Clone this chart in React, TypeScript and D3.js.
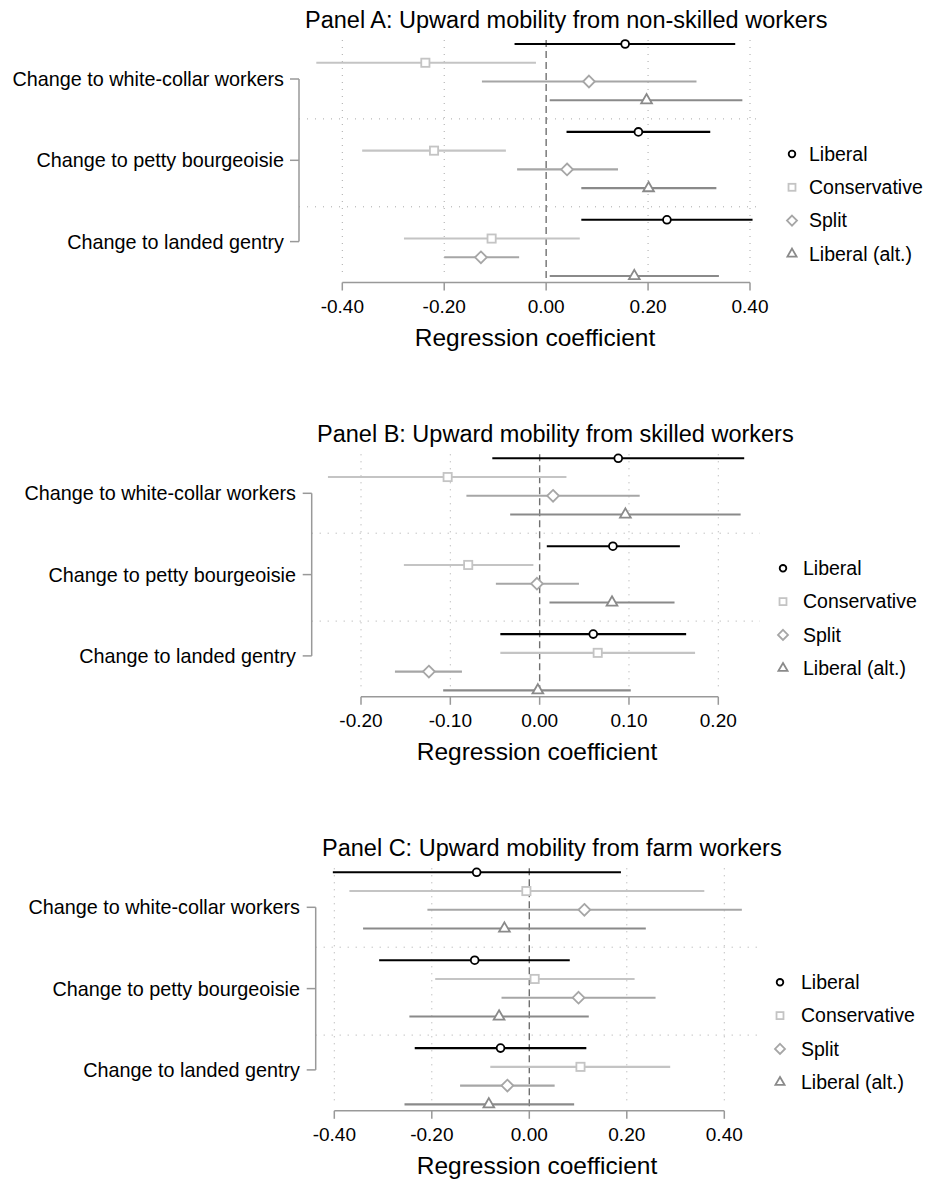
import React from 'react';
import * as d3 from 'd3';

// ---------- data ----------
const categories = [
  'Change to white-collar workers',
  'Change to petty bourgeoisie',
  'Change to landed gentry',
];
const seriesNames = ['Liberal', 'Conservative', 'Split', 'Liberal (alt.)'];
const panelTitles = [
  'Panel A: Upward mobility from non-skilled workers',
  'Panel B: Upward mobility from skilled workers',
  'Panel C: Upward mobility from farm workers',
];
const ticksA = [-0.4, -0.2, 0, 0.2, 0.4];
const ticksB = [-0.2, -0.1, 0, 0.1, 0.2];
const ticksC = [-0.4, -0.2, 0, 0.2, 0.4];
const axisTitle = 'Regression coefficient';

// Panel A (est, lo, hi per category)
const aLibEst = [0.155, 0.181, 0.237];
const aLibLo = [-0.062, 0.040, 0.069];
const aLibHi = [0.371, 0.322, 0.405];
const aConEst = [-0.237, -0.220, -0.107];
const aConLo = [-0.451, -0.361, -0.279];
const aConHi = [-0.020, -0.079, 0.066];
const aSplEst = [0.084, 0.041, -0.128];
const aSplLo = [-0.126, -0.057, -0.200];
const aSplHi = [0.295, 0.141, -0.053];
const aAltEst = [0.197, 0.201, 0.173];
const aAltLo = [0.007, 0.069, 0.007];
const aAltHi = [0.385, 0.334, 0.339];

// Panel B
const bLibEst = [0.088, 0.082, 0.060];
const bLibLo = [-0.053, 0.008, -0.044];
const bLibHi = [0.229, 0.157, 0.164];
const bConEst = [-0.103, -0.080, 0.065];
const bConLo = [-0.237, -0.152, -0.044];
const bConHi = [0.030, -0.007, 0.174];
const bSplEst = [0.015, -0.003, -0.124];
const bSplLo = [-0.082, -0.049, -0.162];
const bSplHi = [0.112, 0.044, -0.087];
const bAltEst = [0.096, 0.081, -0.002];
const bAltLo = [-0.033, 0.011, -0.108];
const bAltHi = [0.225, 0.151, 0.102];

// Panel C
const cLibEst = [-0.108, -0.112, -0.059];
const cLibLo = [-0.403, -0.308, -0.235];
const cLibHi = [0.188, 0.083, 0.117];
const cConEst = [-0.006, 0.011, 0.105];
const cConLo = [-0.369, -0.193, -0.080];
const cConHi = [0.359, 0.216, 0.289];
const cSplEst = [0.113, 0.101, -0.045];
const cSplLo = [-0.209, -0.057, -0.142];
const cSplHi = [0.436, 0.259, 0.052];
const cAltEst = [-0.051, -0.062, -0.083];
const cAltLo = [-0.341, -0.246, -0.256];
const cAltHi = [0.239, 0.122, 0.092];

// ---------- styles ----------
const seriesColors = ['#000000', '#c4c4c4', '#a6a6a6', '#8a8a8a'];
const seriesShapes = ['circle', 'square', 'diamond', 'triangle'];
const FONT = '"Liberation Sans", Arial, Helvetica, sans-serif';
const fmt = d3.formatLocale({ decimal: '.', thousands: ',', grouping: [3], currency: ['', ''], minus: '-' }).format('.2f');

type Series = { est: number[]; lo: number[]; hi: number[] };

const panels = [
  {
    title: panelTitles[0], ticks: ticksA,
    series: [
      { est: aLibEst, lo: aLibLo, hi: aLibHi },
      { est: aConEst, lo: aConLo, hi: aConHi },
      { est: aSplEst, lo: aSplLo, hi: aSplHi },
      { est: aAltEst, lo: aAltLo, hi: aAltHi },
    ] as Series[],
    layout: { row0: 44, x0: 342.3, x1: 750, bracketX: 299, labelX: 284, sepRight: 763, legMX: 792, legTX: 809, titleX: 305, axTitleX: 535 },
  },
  {
    title: panelTitles[1], ticks: ticksB,
    series: [
      { est: bLibEst, lo: bLibLo, hi: bLibHi },
      { est: bConEst, lo: bConLo, hi: bConHi },
      { est: bSplEst, lo: bSplLo, hi: bSplHi },
      { est: bAltEst, lo: bAltLo, hi: bAltHi },
    ] as Series[],
    layout: { row0: 458.3, x0: 361, x1: 718.3, bracketX: 311.7, labelX: 296, sepRight: 760, legMX: 783, legTX: 803, titleX: 317, axTitleX: 537 },
  },
  {
    title: panelTitles[2], ticks: ticksC,
    series: [
      { est: cLibEst, lo: cLibLo, hi: cLibHi },
      { est: cConEst, lo: cConLo, hi: cConHi },
      { est: cSplEst, lo: cSplLo, hi: cSplHi },
      { est: cAltEst, lo: cAltLo, hi: cAltHi },
    ] as Series[],
    layout: { row0: 872.3, x0: 334.3, x1: 724.3, bracketX: 315.7, labelX: 300, sepRight: 757, legMX: 780, legTX: 801, titleX: 322, axTitleX: 537 },
  },
];

const ROW_STEP = 18.75;
const GROUP_STEP = 87.9;
const CAT_OFFSET = 35;
const CAT_STEP = 81.3;

function Marker({ shape, x, y, color, k = 1 }: { shape: string; x: number; y: number; color: string; k?: number }) {
  const sw = 1.8;
  if (shape === 'circle') {
    return <circle cx={x} cy={y} r={3.9 * k} fill="white" stroke={color} strokeWidth={sw} />;
  }
  if (shape === 'square') {
    const s = 8.2 * k;
    return <rect x={x - s / 2} y={y - s / 2} width={s} height={s} fill="white" stroke={color} strokeWidth={sw} />;
  }
  if (shape === 'diamond') {
    const h = 5.9 * k;
    return <path d={`M${x},${y - h}L${x + h},${y}L${x},${y + h}L${x - h},${y}Z`} fill="white" stroke={color} strokeWidth={sw} />;
  }
  const p = d3.symbol(d3.symbolTriangle, 50 * k * k)();
  return <path d={p || ''} transform={`translate(${x},${y})`} fill="white" stroke={color} strokeWidth={sw} />;
}

function Panel({ p }: { p: typeof panels[number] }) {
  const L = p.layout;
  const dom = [p.ticks[0], p.ticks[p.ticks.length - 1]];
  const x = d3.scaleLinear().domain(dom).range([L.x0, L.x1]);
  const rowY = (g: number, k: number) => L.row0 + g * GROUP_STEP + k * ROW_STEP;
  const catY = (g: number) => L.row0 + CAT_OFFSET + g * CAT_STEP;
  const axisY = L.row0 + 238.5;
  const gridTop = L.row0 - 4;
  const gridBottom = axisY - 5;
  const seps = [1, 2].map((g) => rowY(g, 0) - 13);

  return (
    <g>
      <text x={L.titleX} y={L.row0 - 16} fontSize={23.5} fill="#000" fontFamily={FONT}>{p.title}</text>

      {p.ticks.map((t) => (
        t === 0 ? null : (
          <line key={t} x1={x(t)} x2={x(t)} y1={gridTop} y2={gridBottom} stroke="#a8a8a8" strokeWidth={1} strokeDasharray="1,6" />
        )
      ))}
      {seps.map((sy, i) => (
        <line key={i} x1={L.bracketX} x2={L.sepRight} y1={sy} y2={sy} stroke="#a8a8a8" strokeWidth={1} strokeDasharray="1,7" />
      ))}
      <line x1={x(0)} x2={x(0)} y1={gridTop} y2={axisY} stroke="#707070" strokeWidth={1.4} strokeDasharray="7,4" />

      <line x1={L.bracketX} x2={L.bracketX} y1={catY(0)} y2={catY(2)} stroke="#999" strokeWidth={1.5} />
      {categories.map((c, g) => (
        <g key={c}>
          <line x1={L.bracketX - 9} x2={L.bracketX} y1={catY(g)} y2={catY(g)} stroke="#999" strokeWidth={1.5} />
          <text x={L.labelX} y={catY(g)} dy="0.35em" textAnchor="end" fontSize={19.8} fontFamily={FONT} fill="#000">{c}</text>
        </g>
      ))}

      <line x1={x(dom[0])} x2={x(dom[1])} y1={axisY} y2={axisY} stroke="#999" strokeWidth={1.5} />
      {p.ticks.map((t) => (
        <g key={t}>
          <line x1={x(t)} x2={x(t)} y1={axisY} y2={axisY + 8} stroke="#999" strokeWidth={1.5} />
          <text x={x(t)} y={axisY + 30} textAnchor="middle" fontSize={19} fontFamily={FONT} fill="#000">{fmt(t)}</text>
        </g>
      ))}
      <text x={L.axTitleX} y={L.row0 + 302} textAnchor="middle" fontSize={24.5} fontFamily={FONT} fill="#000">{axisTitle}</text>

      {p.series.map((s, k) =>
        categories.map((_, g) => (
          <line key={`${k}-${g}`} x1={x(s.lo[g])} x2={x(s.hi[g])} y1={rowY(g, k)} y2={rowY(g, k)} stroke={seriesColors[k]} strokeWidth={2.1} />
        ))
      )}
      {p.series.map((s, k) =>
        categories.map((_, g) => (
          <Marker key={`m${k}-${g}`} shape={seriesShapes[k]} x={x(s.est[g])} y={rowY(g, k)} color={seriesColors[k]} />
        ))
      )}

      {seriesNames.map((n, k) => {
        const ly = L.row0 + 110 + k * 33.3;
        return (
          <g key={n}>
            <Marker shape={seriesShapes[k]} x={L.legMX} y={ly} color={seriesColors[k]} k={0.85} />
            <text x={L.legTX} y={ly} dy="0.35em" fontSize={19.5} fontFamily={FONT} fill="#000">{n}</text>
          </g>
        );
      })}
    </g>
  );
}

export default function App() {
  return (
    <svg width={928} height={1185} style={{ position: 'absolute', left: 0, top: 0, background: '#fff' }}>
      <rect width={928} height={1185} fill="#fff" />
      {panels.map((p, i) => <Panel key={i} p={p} />)}
    </svg>
  );
}
